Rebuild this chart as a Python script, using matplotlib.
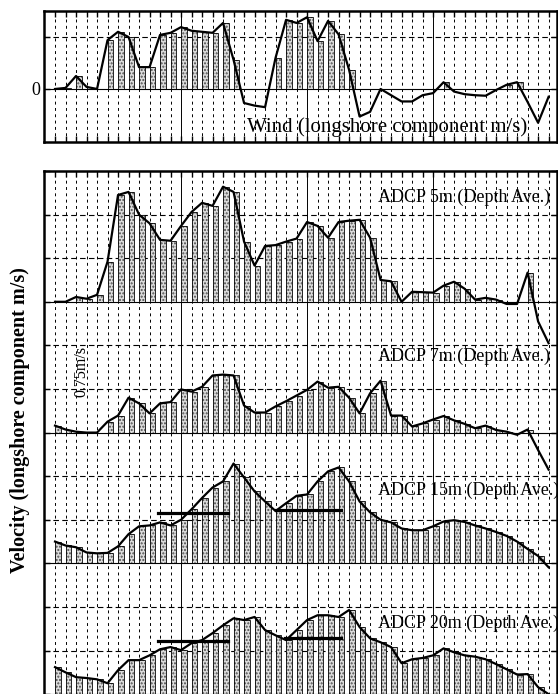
import numpy as np
import matplotlib
matplotlib.use('Agg')
import matplotlib.pyplot as plt

plt.rcParams['font.family'] = ['Liberation Serif', 'DejaVu Serif']

# time axis: hours from start, one sample every 2 h
hours = list(range(0, 96, 2))

# wind, longshore component (one dashed interval per unit)
wind = [0.0, 0.02, 0.25, 0.04, 0.0, 0.94, 1.1, 1.0, 0.42, 0.42, 1.04, 1.08,
        1.19, 1.12, 1.1, 1.08, 1.27, 0.56, -0.27, -0.32, -0.35, 0.6, 1.33, 1.27,
        1.38, 0.92, 1.31, 1.05, 0.37, -0.53, -0.44, 0.0, -0.12, -0.24, -0.24, -0.12,
        -0.08, 0.13, -0.05, -0.1, -0.12, -0.13, -0.02, 0.08, 0.13, -0.25, -0.65, -0.15]

# depth averaged ADCP velocities (one dashed interval = 0.375 m/s)
adcp5 = [0.0, 0.0, 0.11, 0.07, 0.16, 0.92, 2.45, 2.52, 2.0, 1.8, 1.42, 1.4,
         1.74, 2.06, 2.27, 2.2, 2.64, 2.52, 1.38, 0.83, 1.28, 1.3, 1.38, 1.45,
         1.83, 1.74, 1.47, 1.83, 1.86, 1.88, 1.47, 0.5, 0.47, 0.0, 0.23, 0.22,
         0.21, 0.37, 0.46, 0.3, 0.05, 0.09, 0.05, -0.05, -0.05, 0.67, -0.45, -0.95]
adcp7 = [0.16, 0.07, 0.02, 0.0, 0.0, 0.25, 0.39, 0.8, 0.67, 0.44, 0.67, 0.7,
         0.99, 0.94, 1.05, 1.31, 1.33, 1.31, 0.62, 0.46, 0.46, 0.6, 0.72, 0.85,
         0.98, 1.17, 1.03, 1.05, 0.8, 0.44, 0.9, 1.19, 0.39, 0.39, 0.14, 0.21,
         0.3, 0.38, 0.28, 0.2, 0.1, 0.16, 0.06, 0.02, -0.05, 0.07, -0.4, -0.85]
adcp15 = [0.5, 0.41, 0.37, 0.25, 0.23, 0.24, 0.39, 0.67, 0.85, 0.87, 0.94, 0.87,
          1.0, 1.24, 1.5, 1.74, 1.88, 2.29, 1.97, 1.65, 1.42, 1.2, 1.38, 1.55,
          1.58, 1.88, 2.11, 2.2, 1.88, 1.42, 1.17, 1.0, 0.94, 0.8, 0.76, 0.76,
          0.85, 0.96, 0.99, 0.95, 0.87, 0.8, 0.72, 0.63, 0.5, 0.33, 0.17, -0.09]
adcp20 = [0.62, 0.5, 0.39, 0.37, 0.34, 0.25, 0.55, 0.78, 0.78, 0.89, 1.03, 1.08,
          1.01, 1.17, 1.24, 1.4, 1.58, 1.74, 1.7, 1.77, 1.47, 1.35, 1.24, 1.47,
          1.7, 1.81, 1.81, 1.77, 1.93, 1.54, 1.28, 1.19, 1.08, 0.71, 0.8, 0.83,
          0.89, 1.05, 0.96, 0.89, 0.86, 0.8, 0.69, 0.57, 0.45, 0.46, 0.16, 0.0]

# mean velocity over two wind events (start h, end h, level)
mean15 = [(19.6, 33.0, 1.15), (42.0, 54.5, 1.22)]
mean20 = [(19.6, 33.0, 1.22), (43.8, 54.5, 1.28)]

labels = ['ADCP 5m (Depth Ave.)', 'ADCP 7m (Depth Ave.)',
          'ADCP 15m (Depth Ave.)', 'ADCP 20m (Depth Ave.)']


def draw_grid(ax, levels, baselines):
    for h in hours:
        if h > 0 and h % 24 == 0:
            ax.axvline(h, color='k', lw=0.7, zorder=1)
        else:
            ax.axvline(h, color='k', lw=0.7, dashes=(3, 3.5), zorder=1)
    for y in levels:
        ax.axhline(y, color='k', lw=0.8, dashes=(5, 3), zorder=1)
    for y in baselines:
        ax.axhline(y, color='k', lw=0.8, zorder=1)


def draw_series(ax, vals, base):
    v = np.array(vals)
    pos = np.clip(v, 0, None)
    ax.bar(hours, pos, width=1.1, bottom=base, align='edge', color='0.86',
           edgecolor='0.3', hatch='.....', lw=0, zorder=2)
    ax.bar(hours, pos, width=1.1, bottom=base, align='edge', color='none',
           edgecolor='k', lw=0.6, zorder=3)
    ax.plot(hours, v + base, color='k', lw=1.6, zorder=4)


W, H = 558.0, 694.0
fig = plt.figure(figsize=(W / 100, H / 100), dpi=100)
ax_top = fig.add_axes([44 / W, 1 - 142 / H, 513 / W, 131 / H])
ax_bot = fig.add_axes([44 / W, 1 - 700.7 / H, 513 / W, 529.7 / H])

for ax in (ax_top, ax_bot):
    ax.set_xlim(-2.1, 95.6)
    ax.set_xticks(hours)
    ax.tick_params(axis='both', direction='in', top=True, right=True,
                   length=4, width=1.0, labelbottom=False)
    for s in ax.spines.values():
        s.set_linewidth(1.8)

# wind panel
ax_top.set_ylim(-1.02, 1.5)
ax_top.set_yticks([0, 1])
ax_top.set_yticklabels(['0', ''], fontsize=13)
ax_top.tick_params(axis='y', pad=3)
draw_grid(ax_top, [1], [0])
draw_series(ax_top, wind, 0)
ax_top.text(36.6, -0.83, 'Wind (longshore component m/s)', fontsize=15, zorder=5)

# ADCP panels stacked in one axes
ax_bot.set_ylim(-0.15, 12)
ax_bot.set_yticks(range(0, 13))
ax_bot.tick_params(axis='y', labelleft=False)
bases = [9, 6, 3, 0]
draw_grid(ax_bot, [b + k for b in bases for k in (1, 2)], bases)
for vals, base in zip([adcp5, adcp7, adcp15, adcp20], bases):
    draw_series(ax_bot, vals, base)
for segs, base in ((mean15, 3), (mean20, 0)):
    for a, b, lev in segs:
        ax_bot.plot([a, b], [base + lev, base + lev], color='k', lw=2.3, zorder=5)

label_y = [11.28, 7.64, 4.56, 1.51]
for txt, y in zip(labels, label_y):
    ax_bot.text(61.5, y, txt, fontsize=13, zorder=5)

ax_bot.text(5.0, 7.41, '0.75m/s', rotation=90, fontsize=11.5,
            ha='center', va='center', zorder=5)

fig.text(20 / W, 1 - 420 / H, 'Velocity (longshore component m/s)',
         rotation=90, ha='center', va='center', fontsize=14.5, fontweight='bold')

fig.savefig('out.png', dpi=100)
